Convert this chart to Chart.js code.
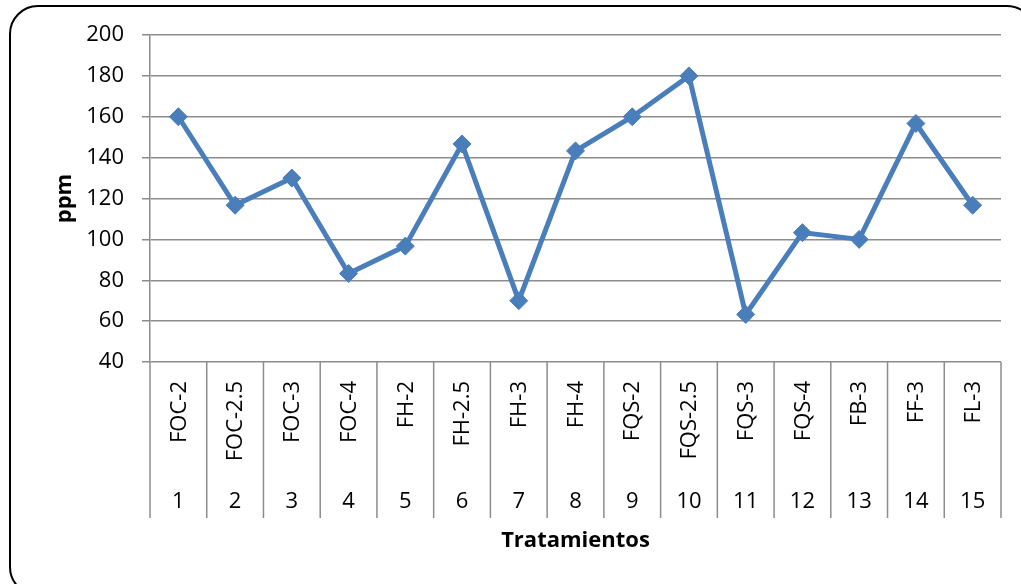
<!DOCTYPE html>
<html>
<head>
<meta charset="utf-8">
<script src="https://cdn.jsdelivr.net/npm/chart.js@4"></script>
<style>
  html, body { margin: 0; padding: 0; background: #fff; }
  #chart { display: block; }
</style>
</head>
<body>
<canvas id="chart" width="1021" height="584"></canvas>
<script>
// Tratamientos y concentración (ppm)
const treatmentCodes = ['FOC-2', 'FOC-2.5', 'FOC-3', 'FOC-4', 'FH-2', 'FH-2.5', 'FH-3', 'FH-4',
  'FQS-2', 'FQS-2.5', 'FQS-3', 'FQS-4', 'FB-3', 'FF-3', 'FL-3'];
const treatmentNumbers = ['1', '2', '3', '4', '5', '6', '7', '8', '9', '10', '11', '12', '13', '14', '15'];
const ppmValues = [160, 116.7, 130, 83.3, 96.7, 146.7, 70, 143.3, 160, 180, 63.3, 103.3, 100, 156.7, 116.7];

const FONT = '"Open Sans", "Noto Sans", sans-serif';
const GRID = '#8c8c8c';

// Eje de categorías en dos niveles + títulos + marco redondeado
const categoryAxis = {
  id: 'categoryAxis',
  afterDraw(chart) {
    const ctx = chart.ctx;
    const x = chart.scales.x;
    const area = chart.chartArea;
    const n = treatmentCodes.length;

    ctx.save();
    // separadores verticales bajo el área de trazado
    ctx.strokeStyle = GRID;
    ctx.lineWidth = 1.5;
    const edges = [area.left];
    for (let i = 1; i < n; i++) {
      edges.push((x.getPixelForValue(i - 1) + x.getPixelForValue(i)) / 2);
    }
    edges.push(area.right);
    edges.forEach(px => {
      ctx.beginPath();
      ctx.moveTo(px, area.bottom);
      ctx.lineTo(px, 518);
      ctx.stroke();
    });

    ctx.fillStyle = '#000';
    ctx.font = '22px ' + FONT;
    for (let i = 0; i < n; i++) {
      const cx = x.getPixelForValue(i);
      ctx.save();
      ctx.translate(cx, 381);
      ctx.rotate(-Math.PI / 2);
      ctx.textAlign = 'right';
      ctx.textBaseline = 'middle';
      ctx.fillText(treatmentCodes[i], 0, 1);
      ctx.restore();

      ctx.textAlign = 'center';
      ctx.textBaseline = 'middle';
      ctx.fillText(treatmentNumbers[i], cx, 502);
    }

    // títulos de ejes
    ctx.font = 'bold 22px ' + FONT;
    ctx.textAlign = 'center';
    ctx.textBaseline = 'middle';
    ctx.fillText('Tratamientos', (area.left + area.right) / 2, 541);
    ctx.save();
    ctx.translate(65, (area.top + area.bottom) / 2);
    ctx.rotate(-Math.PI / 2);
    ctx.fillText('ppm', 0, 0);
    ctx.restore();

    // marco del gráfico
    ctx.strokeStyle = '#000';
    ctx.lineWidth = 2;
    ctx.beginPath();
    ctx.roundRect(10, 6, 1025, 589, 28);
    ctx.stroke();
    ctx.restore();
  }
};

new Chart(document.getElementById('chart'), {
  type: 'line',
  data: {
    labels: treatmentCodes,
    datasets: [{
      label: 'ppm',
      data: ppmValues,
      borderColor: '#4A7EBB',
      backgroundColor: '#4A7EBB',
      borderWidth: 5,
      pointStyle: 'rectRot',
      pointRadius: 9,
      pointBorderWidth: 1,
      tension: 0,
      fill: false
    }]
  },
  options: {
    responsive: false,
    animation: false,
    layout: { padding: { top: 35, right: 20, left: 0, bottom: 0 } },
    plugins: {
      legend: { display: false },
      tooltip: { enabled: false }
    },
    scales: {
      x: {
        offset: true,
        ticks: { display: false },
        grid: { display: false },
        border: { display: false },
        afterFit: s => { s.height = 222; }
      },
      y: {
        min: 40,
        max: 200,
        ticks: { stepSize: 20, padding: 18, color: '#000', font: { family: FONT, size: 22 } },
        grid: { color: GRID, lineWidth: 1.5, tickLength: 8, tickColor: GRID },
        border: { color: GRID, width: 1.5 },
        afterFit: s => { s.width = 150; }
      }
    }
  },
  plugins: [categoryAxis]
});
</script>
</body>
</html>
